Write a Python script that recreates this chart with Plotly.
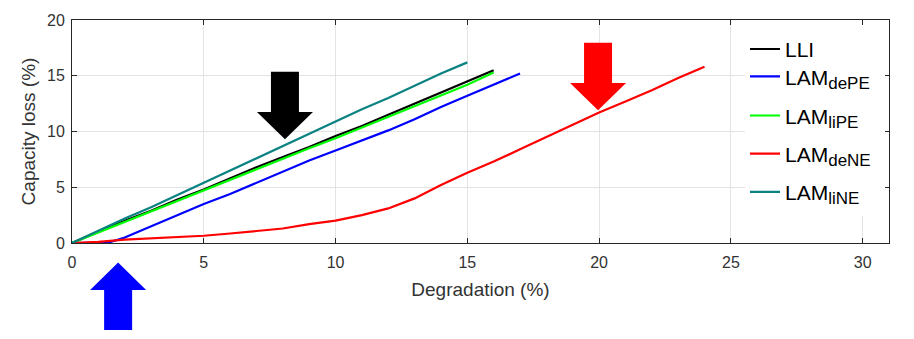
import plotly.graph_objects as go

# Capacity loss (%) versus degradation (%) for each degradation mode
x_lli = [0, 1, 2, 3, 4, 5, 6, 7, 8, 9, 10, 11, 12, 13, 14, 15, 16]
y_lli = [0, 1.0, 2.0, 2.9, 3.9, 4.8, 5.8, 6.8, 7.7, 8.6, 9.6, 10.5, 11.5, 12.5, 13.5, 14.5, 15.5]

x_depe = [0, 1, 1.4, 2, 3, 4, 5, 6, 7, 8, 9, 10, 11, 12, 13, 14, 15, 16, 17]
y_depe = [0, 0, 0.05, 0.5, 1.5, 2.5, 3.5, 4.4, 5.4, 6.4, 7.4, 8.3, 9.2, 10.1, 11.1, 12.2, 13.2, 14.2, 15.2]

x_lipe = [0, 1, 2, 3, 4, 5, 6, 7, 8, 9, 10, 11, 12, 13, 14, 15, 16]
y_lipe = [0, 0.95, 1.9, 2.85, 3.8, 4.75, 5.7, 6.6, 7.55, 8.5, 9.4, 10.35, 11.3, 12.25, 13.2, 14.2, 15.3]

x_dene = [0, 1, 2, 3, 4, 5, 6, 7, 8, 9, 10, 11, 12, 13, 14, 15, 16, 17, 18, 19, 20, 21, 22, 23, 24]
y_dene = [0, 0.1, 0.3, 0.4, 0.5, 0.65, 0.85, 1.1, 1.3, 1.7, 2.0, 2.5, 3.1, 4.0, 5.2, 6.3, 7.3, 8.4,
          9.5, 10.6, 11.7, 12.7, 13.7, 14.8, 15.8]

x_line = [0, 1, 2, 3, 4, 5, 6, 7, 8, 9, 10, 11, 12, 13, 14, 15]
y_line = [0, 1.1, 2.2, 3.2, 4.3, 5.35, 6.5, 7.6, 8.7, 9.8, 10.9, 12.0, 13.0, 14.1, 15.2, 16.2]

SUB = "<sub><span style='font-size:17px'>{}</span></sub>"
series = [
    ("LLI", x_lli, y_lli, "#000000"),
    ("LAM" + SUB.format("dePE"), x_depe, y_depe, "#0000ff"),
    ("LAM" + SUB.format("liPE"), x_lipe, y_lipe, "#00ff00"),
    ("LAM" + SUB.format("deNE"), x_dene, y_dene, "#ff0000"),
    ("LAM" + SUB.format("liNE"), x_line, y_line, "#0a8282"),
]

X_RANGE = [0, 31]
Y_RANGE = [0, 20]
W, H = 914, 339
ML, MR, MT, MB = 72, 25, 15, 96
PW, PH = W - ML - MR, H - MT - MB
FONT = "Liberation Sans, Arial, sans-serif"


def px_to_paper(px, py):
    return (px - ML) / PW, (H - MB - py) / PH


def to_paper(xd, yd):
    px = (xd - X_RANGE[0]) / (X_RANGE[1] - X_RANGE[0])
    py = (yd - Y_RANGE[0]) / (Y_RANGE[1] - Y_RANGE[0])
    return px, py


fig = go.Figure()

# one legend per entry so that the row spacing can be set freely
legend_rows_px = [45, 73, 113, 152, 191]
legend_layout = {}
for i, ((name, xs, ys, col), row_y) in enumerate(zip(series, legend_rows_px)):
    key = "legend" if i == 0 else f"legend{i + 1}"
    fig.add_trace(go.Scatter(x=xs, y=ys, mode="lines", name=name, showlegend=True,
                             line=dict(color=col, width=2.2), legend=key))
    lx, ly = px_to_paper(745, row_y)
    legend_layout[key] = dict(
        x=lx, y=ly, xanchor="left", yanchor="middle",
        bgcolor="rgba(0,0,0,0)", borderwidth=0,
        font=dict(family=FONT, size=21, color="#000000"),
        itemwidth=30,
    )

# white panel behind the legend
x0, y0 = px_to_paper(745, 215)
x1, y1 = px_to_paper(885, 20)
fig.add_shape(type="rect", xref="paper", yref="paper", x0=x0, y0=y0, x1=x1, y1=y1,
              fillcolor="white", line=dict(width=0), layer="above")


def arrow_path(xd, yd, direction, length=69, head=28, head_half=28, shaft_half=14):
    """Block arrow whose tip sits at data point (xd, yd); sizes in pixels."""
    tx, ty = to_paper(xd, yd)
    sx, sy = 1.0 / PW, 1.0 / PH
    d = 1 if direction == "down" else -1
    pts = [
        (0, 0),
        (-head_half, head * d),
        (-shaft_half, head * d),
        (-shaft_half, length * d),
        (shaft_half, length * d),
        (shaft_half, head * d),
        (head_half, head * d),
    ]
    coords = [(tx + px * sx, ty + py * sy) for px, py in pts]
    return "M " + " L ".join(f"{a:.5f},{b:.5f}" for a, b in coords) + " Z"


arrows = [
    (8.08, 9.3, "down", "#000000"),
    (19.96, 11.9, "down", "#ff0000"),
    (1.75, -1.75, "up", "#0000ff"),
]
for xd, yd, direction, col in arrows:
    fig.add_shape(type="path", xref="paper", yref="paper",
                  path=arrow_path(xd, yd, direction),
                  fillcolor=col, line=dict(width=0), layer="above")

axis_common = dict(
    showgrid=True, gridcolor="#e3e3e3", gridwidth=1,
    zeroline=False, showline=True, linecolor="#262626", linewidth=1,
    mirror="ticks", ticks="inside", ticklen=5, tickcolor="#262626",
    tickfont=dict(family=FONT, size=16, color="#333333"),
    title_font=dict(family=FONT, size=19, color="#333333"),
)

fig.update_xaxes(range=X_RANGE, dtick=5, tick0=0, ticklabelstandoff=5,
                 title_text="Degradation (%)", title_standoff=12, **axis_common)
fig.update_yaxes(range=Y_RANGE, dtick=5, tick0=0, ticklabelstandoff=3,
                 title_text="Capacity loss (%)", title_standoff=6, **axis_common)

fig.update_layout(
    width=W, height=H,
    margin=dict(l=ML, r=MR, t=MT, b=MB),
    plot_bgcolor="white", paper_bgcolor="white",
    font=dict(family=FONT),
    showlegend=True,
    **legend_layout,
)

fig.write_html("out.html")
